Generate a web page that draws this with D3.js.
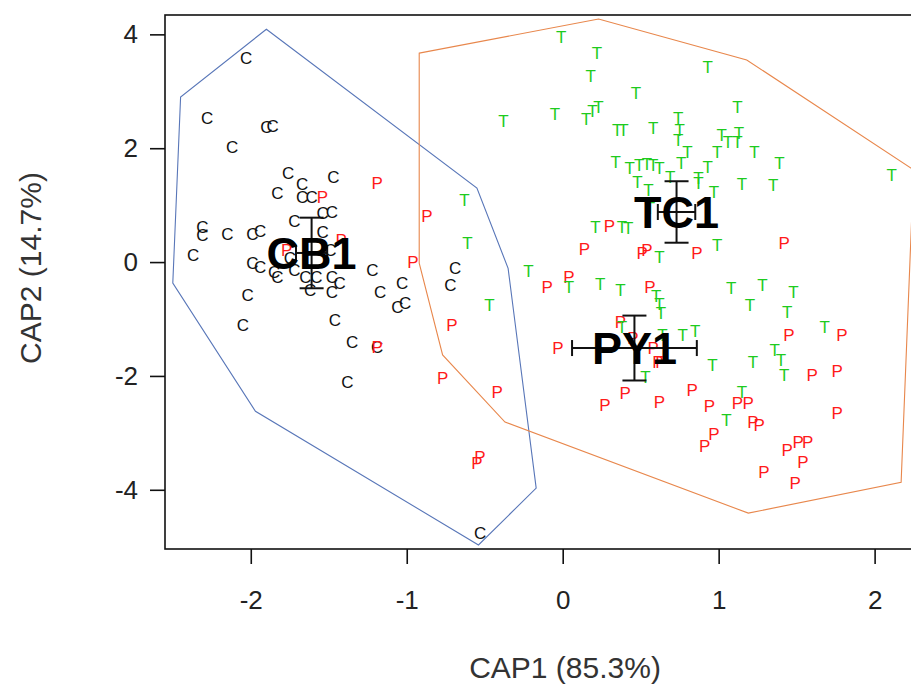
<!DOCTYPE html>
<html>
<head>
<meta charset="utf-8">
<script src="https://cdn.jsdelivr.net/npm/d3@7"></script>
<style>
  body { margin: 0; background: #fff; }
  svg { display: block; font-family: "Liberation Sans", Arial, sans-serif; }
</style>
</head>
<body>
<div id="chart"></div>
<script>
// CAP scores (CAP1, CAP2)
const cbPoints = [
  [-2.03, 3.59], [-2.28, 2.53], [-1.90, 2.37], [-1.86, 2.39], [-2.12, 2.02],
  [-1.76, 1.56], [-1.67, 1.37], [-1.47, 1.49], [-1.83, 1.21], [-1.67, 1.14],
  [-1.61, 1.14], [-1.72, 0.72], [-1.54, 0.86], [-1.48, 0.88], [-2.31, 0.62],
  [-2.31, 0.47], [-2.15, 0.49], [-1.99, 0.49], [-1.94, 0.54], [-1.54, 0.53],
  [-2.37, 0.12], [-1.99, -0.02], [-1.94, -0.09], [-1.85, -0.18], [-1.83, -0.26],
  [-1.72, -0.14], [-1.65, -0.26], [-1.58, -0.26], [-1.48, -0.26], [-1.43, -0.37],
  [-1.48, -0.53], [-1.62, -0.49], [-2.02, -0.58], [-1.22, -0.14], [-1.03, -0.37],
  [-1.17, -0.53], [-1.06, -0.79], [-1.01, -0.72], [-0.69, -0.11], [-0.72, -0.40],
  [-2.05, -1.11], [-1.46, -1.02], [-1.35, -1.41], [-1.19, -1.49], [-1.38, -2.11],
  [-0.53, -4.75], [-1.75, 0.07], [-1.49, 0.21]
];

const pyPoints = [
  [-1.54, 1.14], [-1.19, 1.39], [-0.87, 0.81], [-1.42, 0.39], [-1.77, 0.21],
  [-0.96, 0.00], [-1.19, -1.49], [-0.71, -1.11], [-0.77, -2.04], [-0.42, -2.28],
  [-0.53, -3.43], [-0.55, -3.53], [-0.10, -0.44], [0.04, -0.26], [-0.03, -1.51],
  [0.30, 0.63], [0.14, 0.23], [0.51, 0.16], [0.54, 0.21], [0.86, 0.16],
  [1.42, 0.33], [0.56, -0.44], [0.37, -1.05], [0.45, -1.34], [0.58, -1.51],
  [0.61, -1.76], [0.63, -1.76], [0.40, -2.30], [0.27, -2.51], [0.62, -2.46],
  [0.83, -2.25], [0.94, -2.53], [1.12, -2.48], [1.19, -2.48], [1.22, -2.81],
  [1.26, -2.86], [0.97, -3.01], [0.91, -3.22], [1.76, -2.65], [1.44, -3.30],
  [1.51, -3.16], [1.57, -3.16], [1.54, -3.51], [1.29, -3.69], [1.49, -3.88],
  [1.45, -1.28], [1.79, -1.28], [1.60, -1.99], [1.76, -1.92]
];

const tcPoints = [
  [-0.01, 3.95], [0.22, 3.67], [0.18, 3.27], [0.47, 2.97], [0.93, 3.43],
  [-0.38, 2.48], [-0.05, 2.60], [0.15, 2.51], [0.19, 2.65], [0.23, 2.72],
  [0.35, 2.32], [0.39, 2.32], [0.58, 2.35], [1.12, 2.72], [0.74, 2.53],
  [0.75, 2.32], [0.74, 2.14], [0.80, 1.93], [1.02, 2.23], [1.06, 2.11],
  [1.12, 2.11], [1.13, 2.27], [0.99, 1.93], [1.23, 1.93], [0.34, 1.76],
  [0.43, 1.65], [0.49, 1.70], [0.54, 1.72], [0.58, 1.70], [0.62, 1.65],
  [0.76, 1.74], [0.93, 1.67], [1.39, 1.74], [0.48, 1.41], [0.55, 1.27],
  [0.69, 1.49], [0.87, 1.48], [0.87, 1.39], [1.15, 1.37], [1.35, 1.35],
  [0.97, 1.23], [2.11, 1.53], [0.56, 0.95], [0.21, 0.62], [0.38, 0.62],
  [0.42, 0.60], [0.62, 0.09], [0.99, 0.30], [-0.63, 1.09], [-0.61, 0.33],
  [-0.22, -0.16], [-0.47, -0.76], [0.04, -0.44], [0.24, -0.39], [0.37, -0.49],
  [0.60, -0.60], [0.62, -0.74], [0.63, -0.90], [0.38, -1.14], [0.64, -1.28],
  [0.77, -1.28], [0.85, -1.20], [0.96, -1.81], [0.53, -2.02], [1.08, -0.46],
  [1.28, -0.40], [1.48, -0.53], [1.20, -0.76], [1.44, -0.88], [1.68, -1.14],
  [1.22, -1.76], [1.36, -1.55], [1.40, -1.72], [1.42, -1.99], [1.15, -2.28],
  [1.05, -2.78]
];

// group centroids with error bar half-widths
const centroidLabels = ["CB1", "TC1", "PY1"];
const centroidX = [-1.61, 0.73, 0.46];
const centroidY = [0.16, 0.88, -1.51];
const errX = [0.10, 0.12, 0.40];
const errY = [0.62, 0.54, 0.57];

// hull outlines
const hullCB = [
  [-1.90, 4.09], [-2.45, 2.90], [-2.50, -0.37], [-1.97, -2.62],
  [-0.54, -4.97], [-0.17, -3.97], [-0.35, -0.11], [-0.55, 1.30]
];
const hullTP = [
  [-0.92, 3.67], [0.23, 4.27], [1.18, 3.55], [2.25, 1.62], [2.17, -3.87],
  [1.19, -4.41], [-0.37, -2.81], [-0.77, -1.63], [-0.92, -0.02]
];

const xTicks = [-2, -1, 0, 1, 2];
const yTicks = [4, 2, 0, -2, -4];

const width = 911;
const height = 684;
const plot = { left: 165, top: 15, right: 937, bottom: 549 };

const svg = d3.select("#chart")
  .append("svg")
  .attr("width", width)
  .attr("height", height);

const x = d3.scaleLinear().domain([-2.55, 2.4]).range([plot.left, plot.right]);
const y = d3.scaleLinear().domain([-5.04, 4.34]).range([plot.bottom, plot.top]);

const line = d3.line().x(d => x(d[0])).y(d => y(d[1])).curve(d3.curveLinearClosed);

// hulls
svg.append("path")
  .datum(hullCB)
  .attr("d", line)
  .attr("fill", "none")
  .attr("stroke", "#5876b8")
  .attr("stroke-width", 1.1);

svg.append("path")
  .datum(hullTP)
  .attr("d", line)
  .attr("fill", "none")
  .attr("stroke", "#e8874c")
  .attr("stroke-width", 1.1);

// sample letters
function drawLetters(data, letter, colour) {
  svg.append("g")
    .selectAll("text")
    .data(data)
    .enter()
    .append("text")
    .attr("x", d => x(d[0]))
    .attr("y", d => y(d[1]))
    .attr("dy", "0.36em")
    .attr("text-anchor", "middle")
    .attr("font-size", 17)
    .attr("fill", colour)
    .text(letter);
}
drawLetters(cbPoints, "C", "#111");
drawLetters(pyPoints, "P", "#ff1a1a");
drawLetters(tcPoints, "T", "#1ecb1e");

// centroid error bars
const bars = svg.append("g").attr("stroke", "#111").attr("stroke-width", 2);
centroidLabels.forEach((lab, i) => {
  const cx = x(centroidX[i]), cy = y(centroidY[i]);
  const x0 = x(centroidX[i] - errX[i]), x1 = x(centroidX[i] + errX[i]);
  const y0 = y(centroidY[i] + errY[i]), y1 = y(centroidY[i] - errY[i]);
  bars.append("line").attr("x1", x0).attr("x2", x1).attr("y1", cy).attr("y2", cy);
  bars.append("line").attr("x1", cx).attr("x2", cx).attr("y1", y0).attr("y2", y1);
  [x0, x1].forEach(v => bars.append("line").attr("x1", v).attr("x2", v).attr("y1", cy - 8).attr("y2", cy + 8));
  [y0, y1].forEach(v => bars.append("line").attr("x1", cx - 12).attr("x2", cx + 12).attr("y1", v).attr("y2", v));
});

svg.append("g")
  .selectAll("text")
  .data(centroidLabels)
  .enter()
  .append("text")
  .attr("x", (d, i) => x(centroidX[i]))
  .attr("y", (d, i) => y(centroidY[i]))
  .attr("dy", "0.36em")
  .attr("text-anchor", "middle")
  .attr("font-size", 45)
  .attr("font-weight", "bold")
  .attr("fill", "#000")
  .text(d => d);

// frame
svg.append("rect")
  .attr("x", plot.left)
  .attr("y", plot.top)
  .attr("width", plot.right - plot.left)
  .attr("height", plot.bottom - plot.top)
  .attr("fill", "none")
  .attr("stroke", "#111")
  .attr("stroke-width", 1.6);

// axes (plain hyphen for negatives, as in the original)
const fmt = d => String(d);

const xAxis = svg.append("g")
  .attr("transform", `translate(0,${plot.bottom})`)
  .call(d3.axisBottom(x).tickValues(xTicks).tickSize(15).tickPadding(27).tickFormat(fmt));

const yAxis = svg.append("g")
  .attr("transform", `translate(${plot.left},0)`)
  .call(d3.axisLeft(y).tickValues(yTicks).tickSize(15).tickPadding(12).tickFormat(fmt));

[xAxis, yAxis].forEach(g => {
  g.select(".domain").remove();
  g.selectAll(".tick line").attr("stroke", "#111").attr("stroke-width", 1.6);
  g.selectAll(".tick text")
    .attr("font-size", 26)
    .attr("fill", "#222")
    .attr("font-family", "'Liberation Sans', Arial, sans-serif");
});

// axis titles
svg.append("text")
  .attr("x", 565)
  .attr("y", 667)
  .attr("dy", "0.36em")
  .attr("text-anchor", "middle")
  .attr("font-size", 30)
  .attr("fill", "#333")
  .text("CAP1 (85.3%)");

svg.append("text")
  .attr("transform", "translate(30,268) rotate(-90)")
  .attr("dy", "0.36em")
  .attr("text-anchor", "middle")
  .attr("font-size", 30)
  .attr("fill", "#333")
  .text("CAP2 (14.7%)");
</script>
</body>
</html>
